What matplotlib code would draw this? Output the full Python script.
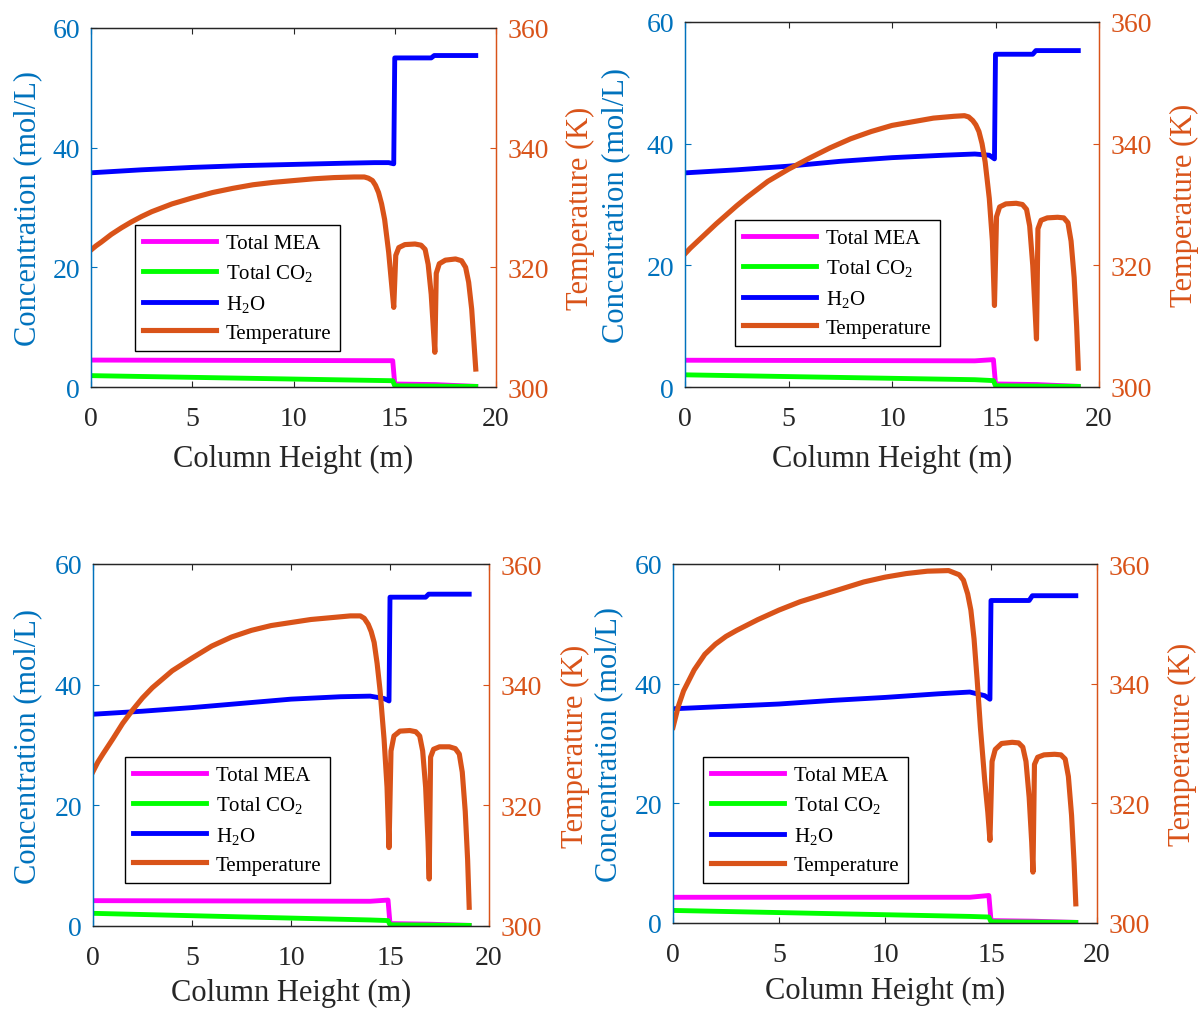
import matplotlib
matplotlib.use('Agg')
import matplotlib.pyplot as plt

plt.rcParams['font.family'] = ['Liberation Serif', 'DejaVu Serif']
plt.rcParams['mathtext.fontset'] = 'custom'
plt.rcParams['mathtext.rm'] = 'Liberation Serif'
plt.rcParams['mathtext.it'] = 'Liberation Serif:italic'

BLUE_AX = '#0072BD'
ORANGE = '#D95319'
DARK = '#262626'

# column height grids (m)
height_T = [0, 0.25, 0.5, 1, 1.5, 2, 2.5, 3, 4, 5, 6, 7, 8, 9, 10, 11, 12, 13,
            13.5, 13.7, 13.9, 14.05, 14.2, 14.35, 14.5, 14.7, 14.85, 14.95,
            15.05, 15.2, 15.5, 16.0, 16.3, 16.5, 16.65, 16.8, 16.92, 16.98,
            17.05, 17.2, 17.5, 18.0, 18.3, 18.5, 18.65, 18.8, 18.92, 19.0]
height_w = [0, 2.5, 5, 7.5, 10, 12.5, 14.0, 14.7, 14.95, 15.0, 16.8, 16.95, 19.0]
height_s = [0, 14.0, 14.9, 15.0, 17.0, 19.0]

# temperature (K), one list per panel
temp_1 = [322.9, 323.6, 324.2, 325.5, 326.6, 327.6, 328.5, 329.3, 330.6, 331.6, 332.5, 333.2, 333.8, 334.2, 334.5,
          334.8, 335.0, 335.1,
          335.1, 334.9, 334.5, 333.7, 332.5, 330.6, 328.0, 322.5, 317.0, 313.3,
          322.0, 323.3, 323.8, 323.9, 323.7, 323.0, 320.5, 315.5, 309.0, 305.8,
          319.0, 320.6, 321.2, 321.4, 321.1, 320.0, 317.5, 313.0, 307.0, 303.0]
temp_2 = [321.9, 322.8, 323.6, 325.2, 326.8, 328.3, 329.8, 331.2, 333.8, 335.8, 337.6, 339.3, 340.8, 342.0, 343.0,
          343.6, 344.2, 344.5,
          344.6, 344.4, 343.8, 343.1, 342.0, 340.0, 337.0, 331.0, 324.0, 313.4,
          328.0, 329.6, 330.1, 330.2, 330.0, 329.2, 326.5, 320.0, 312.0, 307.9,
          326.0, 327.4, 327.8, 327.9, 327.8, 327.0, 324.0, 318.0, 310.0, 303.1]
temp_3 = [325.6, 327.2, 328.5, 331.0, 333.6, 335.8, 337.8, 339.5, 342.3, 344.4, 346.4, 347.9, 349.0, 349.8, 350.3,
          350.8, 351.1, 351.4,
          351.4, 351.0, 350.0, 348.8, 347.0, 343.5, 339.0, 331.0, 323.0, 313.0,
          329.0, 331.5, 332.3, 332.4, 332.2, 331.5, 329.0, 323.0, 314.0, 307.8,
          328.0, 329.3, 329.7, 329.7, 329.4, 328.5, 325.5, 319.0, 311.0, 303.1]
temp_4 = [332.7, 336.2, 338.8, 342.3, 344.9, 346.6, 347.9, 348.9, 350.7, 352.3, 353.7, 354.8, 355.9, 357.0, 357.8,
          358.4, 358.8, 358.9,
          358.2, 357.3, 355.0, 352.3, 347.5, 340.5, 332.7, 324.0, 318.5, 313.8,
          327.0, 329.0, 330.0, 330.2, 330.1, 329.4, 327.0, 321.0, 313.5, 308.5,
          326.5, 327.7, 328.1, 328.2, 328.1, 327.4, 324.5, 318.0, 310.0, 303.2]

# H2O concentration (mol/L)
h2o_1 = [35.8, 36.3, 36.7, 37.0, 37.2, 37.4, 37.5, 37.5, 37.3, 55.0, 55.0, 55.4, 55.4]
h2o_2 = [35.2, 35.7, 36.3, 37.1, 37.7, 38.1, 38.3, 38.1, 37.5, 54.7, 54.7, 55.3, 55.3]
h2o_3 = [35.1, 35.6, 36.2, 36.9, 37.6, 38.0, 38.1, 37.7, 37.3, 54.5, 54.5, 55.0, 55.0]
h2o_4 = [35.8, 36.2, 36.6, 37.2, 37.7, 38.3, 38.6, 38.0, 37.4, 53.9, 53.9, 54.7, 54.7]

# total MEA and total CO2 (mol/L)
mea_1 = [4.5, 4.4, 4.4, 0.5, 0.4, 0.1]
mea_2 = [4.4, 4.3, 4.5, 0.5, 0.4, 0.1]
mea_3 = [4.2, 4.1, 4.3, 0.4, 0.3, 0.1]
mea_4 = [4.3, 4.3, 4.6, 0.4, 0.3, 0.1]
co2_1 = [1.9, 1.1, 1.05, 0.2, 0.15, 0.1]
co2_2 = [2.0, 1.2, 1.05, 0.2, 0.15, 0.1]
co2_3 = [2.1, 1.0, 0.9, 0.2, 0.15, 0.1]
co2_4 = [2.1, 1.1, 1.0, 0.2, 0.15, 0.1]

labels = ['Total MEA', 'Total CO$_2$', 'H$_2$O', 'Temperature']

W, H = 1203, 1012
fig = plt.figure(figsize=(W / 100, H / 100), dpi=100)


def px_axes(x0, y0, x1, y1):
    return fig.add_axes([x0 / W, 1 - y1 / H, (x1 - x0) / W, (y1 - y0) / H])


def panel(box, mea, co2, h2o, temp, leg_xy, lab_px):
    x0, y0, x1, y1 = box
    ax = px_axes(*box)
    ax2 = ax.twinx()
    l1, = ax.plot(height_s, mea, color='#FF00FF', lw=3.5)
    l2, = ax.plot(height_s, co2, color='#00FF00', lw=3.5)
    l3, = ax.plot(height_w, h2o, color='#0000FF', lw=3.5)
    l4, = ax2.plot(height_T, temp, color=ORANGE, lw=3.7)

    ax.set_xlim(0, 20)
    ax.set_ylim(0, 60)
    ax2.set_ylim(300, 360)
    ax.set_xticks([0, 5, 10, 15, 20])
    ax.set_yticks([0, 20, 40, 60])
    ax2.set_yticks([300, 320, 340, 360])

    ax.tick_params(axis='x', direction='in', top=True, length=4, width=0.8,
                   colors=DARK, labelsize=20, pad=14)
    ax.tick_params(axis='y', direction='in', length=4, width=0.8,
                   colors=BLUE_AX, labelsize=20, pad=8)
    ax2.tick_params(axis='y', direction='in', length=4, width=0.8,
                    colors=ORANGE, labelsize=20, pad=8)
    for a in (ax, ax2):
        a.spines['top'].set_color(DARK)
        a.spines['bottom'].set_color(DARK)
        a.spines['left'].set_color(BLUE_AX)
        a.spines['right'].set_color(ORANGE)
        for s in a.spines.values():
            s.set_linewidth(0.9)

    w, h = x1 - x0, y1 - y0
    lx, rx, xy = lab_px
    ax.set_xlabel('Column Height (m)', fontsize=22, color=DARK)
    ax.set_ylabel('Concentration (mol/L)', fontsize=22, color=BLUE_AX)
    ax2.set_ylabel('Temperature (K)', fontsize=22, color=ORANGE)
    ax.xaxis.set_label_coords(0.5, (y1 - xy) / h)
    ax.yaxis.set_label_coords((lx - x0) / w, 0.5)
    ax2.yaxis.set_label_coords((rx - x0) / w, 0.5)

    leg = ax2.legend([l1, l2, l3, l4], labels, loc='lower left',
                     bbox_to_anchor=leg_xy, borderaxespad=0, fontsize=15,
                     fancybox=False, edgecolor='black', framealpha=1,
                     handlelength=3.5, handletextpad=0.45, labelspacing=0.45,
                     borderpad=0.4)
    leg.get_frame().set_linewidth(1.0)


panel((91, 29, 496, 388), mea_1, co2_1, h2o_1, temp_1, (0.109, 0.100), (42, 566, 445))
panel((685, 23, 1099, 388), mea_2, co2_2, h2o_2, temp_2, (0.121, 0.112), (630, 1170, 445))
panel((93, 565, 489, 927), mea_3, co2_3, h2o_3, temp_3, (0.081, 0.119), (42, 561, 979))
panel((673, 565, 1097, 924), mea_4, co2_4, h2o_4, temp_4, (0.071, 0.111), (623, 1168, 977))

fig.savefig('out.png', dpi=100)
